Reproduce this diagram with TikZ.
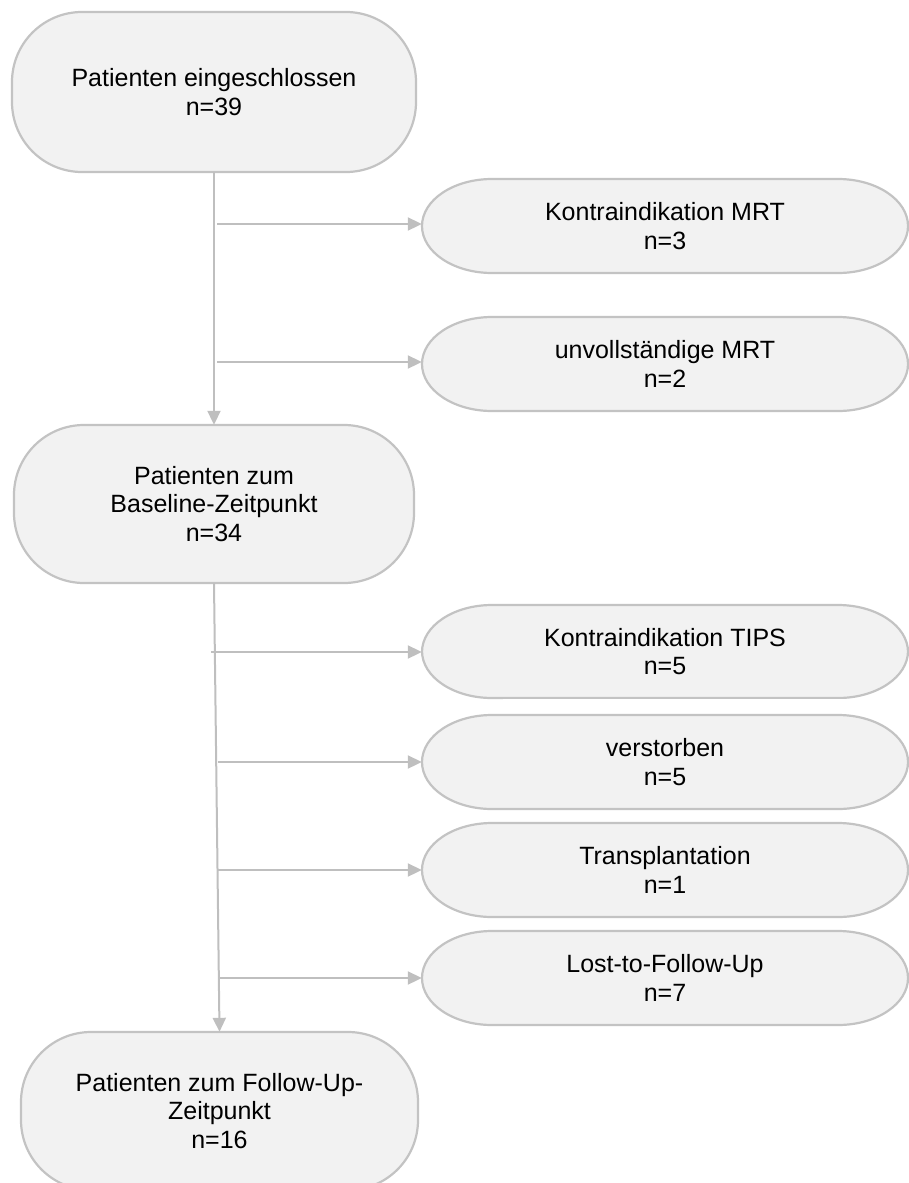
\documentclass[tikz,border=0pt]{standalone}
\usepackage{fontspec}
\setmainfont{Liberation Sans}
\usetikzlibrary{arrows.meta}
\definecolor{boxfill}{HTML}{F2F2F2}
\definecolor{boxline}{HTML}{C3C3C3}
\definecolor{connline}{HTML}{BFBFBF}
\tikzset{
  boxshape/.style={fill=boxfill, draw=boxline, line width=2.2pt},
  boxtext/.style={inner sep=0pt, align=center, text=black, font=\fontsize{25}{28.8}\selectfont},
  conn/.style={draw=connline, line width=2pt, -{Triangle[length=14pt,width=13pt]}},
  gapline/.style={draw=white, line width=1.2pt}
}
% name, x1, ytop, x2, ybot, ry, text  (pixel coordinates, y downwards)
\newcommand\flowbox[7]{%
  \filldraw[boxshape] ({#2+70},-#3) -- ({#4-70},-#3)
    arc[start angle=90,end angle=0,x radius=70,y radius=#6]
    -- (#4,{-#5+#6})
    arc[start angle=0,end angle=-90,x radius=70,y radius=#6]
    -- ({#2+70},-#5)
    arc[start angle=270,end angle=180,x radius=70,y radius=#6]
    -- (#2,{-#3-#6})
    arc[start angle=180,end angle=90,x radius=70,y radius=#6] -- cycle;
  \node[boxtext, minimum width={#4-#2}, minimum height={#5-#3}] (#1)
    at ({(#2+#4)/2},{-(#3+#5)/2}) {#7};
}
\begin{document}
\begin{tikzpicture}[x=1pt,y=1pt]
\useasboundingbox (0,0) rectangle (909,-1183);
% main column
\flowbox{b1}{12}{12}{416}{172}{70}{Patienten eingeschlossen\\n=39}
\flowbox{b2}{14}{425}{414}{583}{70}{Patienten zum\\Baseline-Zeitpunkt\\n=34}
\flowbox{b3}{21}{1032}{418}{1190}{70}{Patienten zum Follow-Up-\\Zeitpunkt\\n=16}
% exclusion boxes
\flowbox{kmrt}{422}{179}{908}{273}{47}{Kontraindikation MRT\\n=3}
\flowbox{umrt}{422}{317}{908}{411}{47}{unvollständige MRT\\n=2}
\flowbox{tips}{422}{605}{908}{698}{47}{Kontraindikation TIPS\\n=5}
\flowbox{verst}{422}{715}{908}{809}{47}{verstorben\\n=5}
\flowbox{tx}{422}{823}{908}{917}{47}{Transplantation\\n=1}
\flowbox{lost}{422}{931}{908}{1025}{47}{Lost-to-Follow-Up\\n=7}
% thinner stretch of the TIPS box's lower border, as in the reference
\draw[gapline] (503,-699.2) -- (863,-699.2);
% trunks
\draw[conn] (b1.south) -- (b2.north);
\draw[conn] (b2.south) -- (b3.north);
% branch start points
\coordinate (s1) at (217,-224);
\coordinate (s2) at (217,-362);
\coordinate (s3) at (211,-652);
\coordinate (s4) at (218,-762);
\coordinate (s5) at (218,-870);
\coordinate (s6) at (218,-978);
\draw[conn] (s1) -- (s1 -| kmrt.west);
\draw[conn] (s2) -- (s2 -| umrt.west);
\draw[conn] (s3) -- (s3 -| tips.west);
\draw[conn] (s4) -- (s4 -| verst.west);
\draw[conn] (s5) -- (s5 -| tx.west);
\draw[conn] (s6) -- (s6 -| lost.west);
\end{tikzpicture}
\end{document}
